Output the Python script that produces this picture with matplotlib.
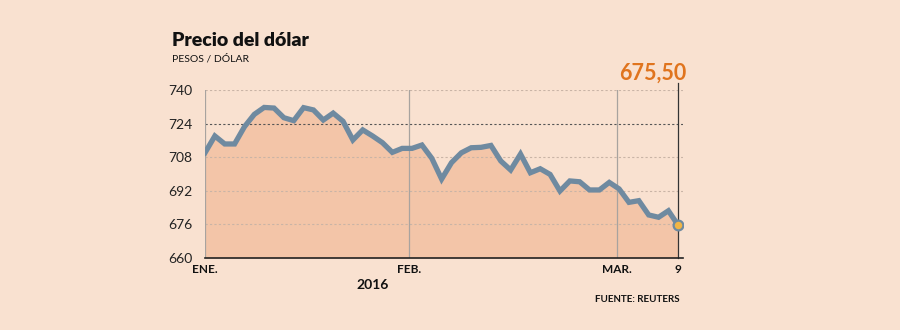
import numpy as np
import matplotlib.pyplot as plt

# Precio del dólar, cierre diario (pesos por dólar), enero - 9 de marzo 2016
precio = [710.1, 718.1, 714.3, 714.3, 722.5, 728.4, 731.7, 731.4, 726.8, 725.4,
          731.6, 730.5, 725.7, 729.0, 725.1, 716.2, 721.0, 718.1, 714.9, 710.3,
          712.2, 712.2, 713.8, 707.5, 697.6, 705.4, 710.1, 712.5, 712.7, 713.6,
          706.2, 701.9, 709.5, 700.6, 702.5, 699.8, 691.9, 696.7, 696.3, 692.4,
          692.4, 696.0, 692.9, 686.5, 687.3, 680.5, 679.4, 682.5, 675.5]
meses = ["ENE.", "FEB.", "MAR."]
meses_pos = [0, 20.72, 41.75]
yticks = [660, 676, 692, 708, 724, 740]
ultimo = "675,50"

bg = "#f9e1d0"
fill = "#f3c5a8"
linea = "#6f8aa0"
naranja = "#e0741e"

plt.rcParams['font.family'] = ['Lato', 'DejaVu Sans']

fig = plt.figure(figsize=(9, 3.3), dpi=100, facecolor=bg)
ax = fig.add_axes([205/900, 1-258/330, (683-205)/900, (258-90)/330])
ax.set_facecolor(bg)

x = np.arange(len(precio))
ax.fill_between(x, 660, precio, color=fill, lw=0, zorder=1)
ax.plot(x, precio, color=linea, lw=3.8, solid_joinstyle="miter", zorder=3)
ax.plot(x[-1], precio[-1], "o", ms=7, mfc="#f2b544", mec=linea, mew=1.6, zorder=4)

ax.set_xlim(0, 48.48)
ax.set_ylim(660, 740)

# líneas guía horizontales
for v in yticks[1:]:
    if v == 724:
        ax.axhline(v, color="#555555", lw=0.8, ls=(0, (2, 2)), zorder=2)
    else:
        ax.axhline(v, color="#c9b4a6", lw=0.8, ls=(0, (2, 2)), zorder=2)

# separadores de mes
for p in meses_pos:
    ax.plot([p, p], [660, 740], color="#a8a39f", lw=0.9, zorder=2)

# línea del último dato
ax.plot([x[-1], x[-1]], [660, 743.3], color="#333333", lw=0.9, zorder=2, clip_on=False)

for s in ["top", "right", "left"]:
    ax.spines[s].set_visible(False)
ax.spines["bottom"].set_color("#222222")
ax.spines["bottom"].set_linewidth(1.2)

ax.set_yticks(yticks)
ax.set_yticklabels([str(v) for v in yticks], fontsize=10, color="#222222")
ax.tick_params(axis="y", length=0, pad=9)
ax.set_xticks(meses_pos + [x[-1]])
ax.set_xticklabels(meses + ["9"], fontsize=8.5, color="#111111", fontweight="bold")
ax.tick_params(axis="x", length=0, pad=4)

fig.text(172/900, 1-46/330, "Precio del dólar", fontsize=14, fontweight="heavy", color="#111111")
fig.text(172/900, 1-61/330, "PESOS / DÓLAR", fontsize=7.5, color="#111111")
fig.text(686/900, 1-80/330, ultimo, fontsize=15.5, fontweight="bold", color=naranja, ha="right")
fig.text(373/900, 1-289/330, "2016", fontsize=10, color="#111111", ha="center", fontweight="bold")
fig.text(680/900, 1-302/330, "FUENTE: REUTERS", fontsize=7, color="#111111", ha="right", fontweight="bold")

fig.savefig("out.png", dpi=100, facecolor=bg)
